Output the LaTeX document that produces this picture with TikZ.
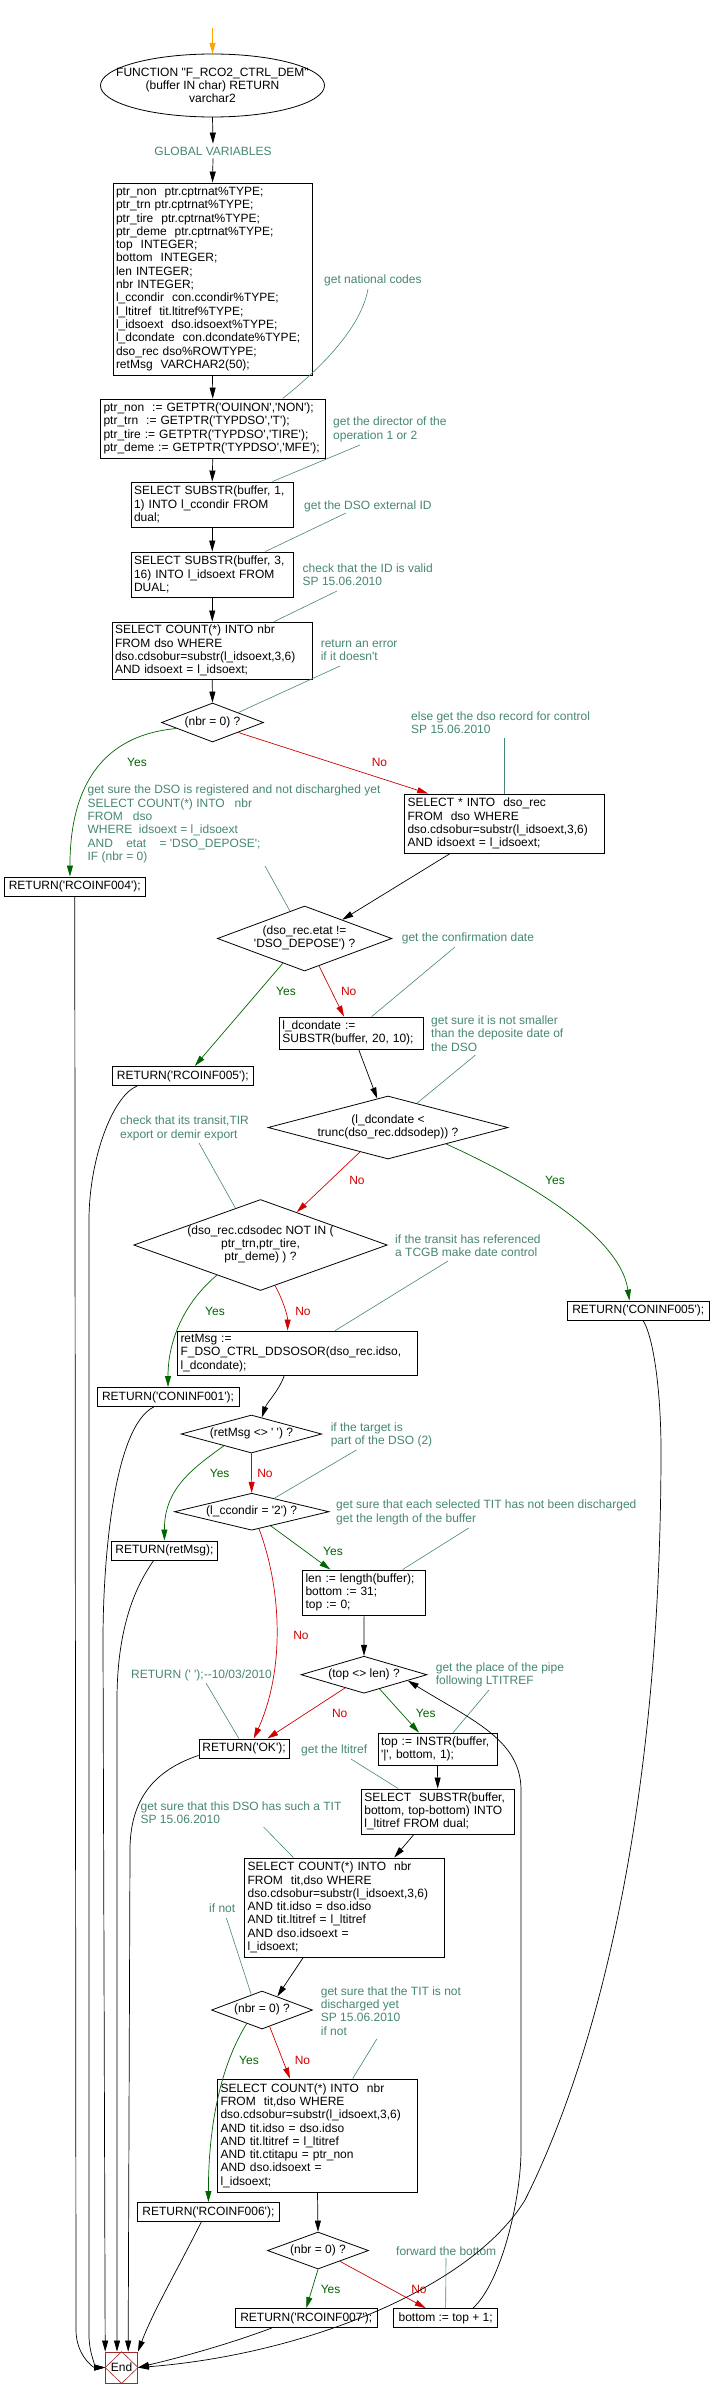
\documentclass[tikz,border=0pt]{standalone}
\usepackage{fontspec}
\newfontfamily\lsans{Liberation Sans}
\usetikzlibrary{arrows.meta,calc,shapes.geometric}
\definecolor{cmt}{RGB}{70,135,110}
\definecolor{yesc}{RGB}{0,100,0}
\definecolor{noc}{RGB}{210,0,0}
\definecolor{endc}{RGB}{160,40,40}
\definecolor{startc}{RGB}{255,165,0}
\newcommand{\myf}{\lsans\fontsize{12pt}{13.3pt}\selectfont}
\newcommand{\dtext}[1]{\makebox[0pt]{\begin{tabular}{@{}c@{}}#1\end{tabular}}}
\begin{document}
\begin{tikzpicture}[x=1pt,y=-1pt,
  every node/.style={font=\myf},
  box/.style={draw, line width=0.9pt, align=left, inner xsep=3pt, inner ysep=1.5pt},
  rbox/.style={draw, line width=0.9pt, inner xsep=3pt, inner ysep=1.5pt, minimum height=19pt},
  dia/.style={draw, line width=0.8pt, diamond, aspect=1, inner sep=0pt},
  cmtn/.style={text=cmt, align=left, anchor=west, inner sep=0pt},
  cl/.style={draw=cmt, line width=0.6pt},
  arr/.style={draw=black, line width=0.7pt, -{Triangle[length=11pt,width=6pt]}},
  yarr/.style={draw=yesc, line width=0.7pt, -{Triangle[length=11pt,width=6pt]}},
  narr/.style={draw=noc, line width=0.7pt, -{Triangle[length=11pt,width=6pt]}},
  sarr/.style={draw=startc, line width=0.8pt, -{Triangle[length=11pt,width=6pt]}},
  ylab/.style={text=yesc, inner sep=0pt},
  nlab/.style={text=noc, inner sep=0pt}]
\useasboundingbox (0,0) rectangle (710,2398);

% ---------------- nodes ----------------
\coordinate (s0) at (212.5,28);
\node[minimum width=224pt, minimum height=63pt, inner sep=0pt, align=center] (e1) at (212.5,85.5)
  {FUNCTION "F\_RCO2\_CTRL\_DEM"\\(buffer IN char) RETURN\\varchar2};
\draw[line width=0.8pt] (e1.center) ellipse [x radius=112pt, y radius=31.5pt];
\node[text=cmt, inner sep=3pt] (gv) at (213,151) {GLOBAL VARIABLES};

\node[box, text width=193pt, minimum height=192pt] (b1) at (212.5,279) {%
ptr\_non~ ptr.cptrnat\%TYPE;\\
ptr\_trn ptr.cptrnat\%TYPE;\\
ptr\_tire~ ptr.cptrnat\%TYPE;\\
ptr\_deme~ ptr.cptrnat\%TYPE;\\
top~ INTEGER;\\
bottom~ INTEGER;\\
len INTEGER;\\
nbr INTEGER;\\
l\_ccondir~ con.ccondir\%TYPE;\\
l\_ltitref~ tit.ltitref\%TYPE;\\
l\_idsoext~ dso.idsoext\%TYPE;\\
l\_dcondate~ con.dcondate\%TYPE;\\
dso\_rec dso\%ROWTYPE;\\
retMsg~ VARCHAR2(50);};

\node[box, text width=218.5pt, minimum height=59pt] (b2) at (212.75,428.5) {%
ptr\_non~ := GETPTR('OUINON','NON');\\
ptr\_trn~ := GETPTR('TYPDSO','T');\\
ptr\_tire := GETPTR('TYPDSO','TIRE');\\
ptr\_deme := GETPTR('TYPDSO','MFE');};

\node[box, text width=156.5pt, minimum height=45pt] (b3) at (212.25,504.5) {%
SELECT SUBSTR(buffer, 1,\\1) INTO l\_ccondir FROM\\dual;};
\node[box, text width=156.5pt, minimum height=45pt] (b4) at (212.25,574.5) {%
SELECT SUBSTR(buffer, 3,\\16) INTO l\_idsoext FROM\\DUAL;};
\node[box, text width=194.5pt, minimum height=57pt] (b5) at (212.25,650.5) {%
SELECT COUNT(*) INTO nbr\\FROM dso WHERE\\dso.cdsobur=substr(l\_idsoext,3,6)\\AND idsoext = l\_idsoext;};
\node[dia, minimum width=102pt, minimum height=39pt] (d1) at (212.5,722.5) {\dtext{(nbr = 0) ?}};
\node[box, text width=194pt, minimum height=59pt] (b6) at (504.5,823.5) {%
SELECT * INTO~ dso\_rec\\FROM~ dso WHERE\\dso.cdsobur=substr(l\_idsoext,3,6)\\AND idsoext = l\_idsoext;};
\node[rbox, minimum width=140.5pt] (r4) at (74.75,886.5) {RETURN('RCOINF004');};
\node[dia, minimum width=174.4pt, minimum height=65pt] (d2) at (304.6,938.5) {\dtext{(dso\_rec.etat !=\\'DSO\_DEPOSE') ?}};
\node[box, text width=138pt, minimum height=32pt] (b7) at (351.4,1033) {l\_dcondate :=\\SUBSTR(buffer, 20, 10);};
\node[rbox, minimum width=141.6pt] (r5) at (182.8,1076) {RETURN('RCOINF005');};
\node[dia, minimum width=240pt, minimum height=63pt] (d3) at (388,1127.5) {\dtext{(l\_dcondate <\\trunc(dso\_rec.ddsodep)) ?}};
\node[dia, minimum width=253.5pt, minimum height=91pt] (d4) at (260.5,1245) {\dtext{(dso\_rec.cdsodec NOT IN (\\ptr\_trn,ptr\_tire,\\ptr\_deme) ) ?}};
\node[rbox, minimum width=141.5pt] (r6) at (638.25,1310.5) {RETURN('CONINF005');};
\node[box, text width=233.5pt, minimum height=44pt] (b8) at (297.25,1353) {retMsg :=\\F\_DSO\_CTRL\_DDSOSOR(dso\_rec.idso,\\l\_dcondate);};
\node[rbox, minimum width=142pt] (r7) at (168,1397) {RETURN('CONINF001');};
\node[dia, minimum width=140.6pt, minimum height=38pt] (d5) at (251.4,1434) {\dtext{(retMsg <> ' ') ?}};
\node[dia, minimum width=154.6pt, minimum height=37pt] (d6) at (251.7,1511.7) {\dtext{(l\_ccondir = '2') ?}};
\node[rbox, minimum width=106pt] (r8) at (164.4,1550.5) {RETURN(retMsg);};
\node[box, text width=117.2pt, minimum height=45pt] (b9) at (364.1,1592.5) {len := length(buffer);\\bottom := 31;\\top := 0;};
\node[dia, minimum width=126pt, minimum height=37pt] (d7) at (364,1674.7) {\dtext{(top <> len) ?}};
\node[rbox, minimum width=90pt] (rOK) at (244,1748.5) {RETURN('OK');};
\node[box, text width=113pt, minimum height=32pt] (b10) at (437.5,1749) {top := INSTR(buffer,\\'|', bottom, 1);};
\node[box, text width=146.6pt, minimum height=45pt] (b11) at (437.7,1811.5) {SELECT~ SUBSTR(buffer,\\bottom, top-bottom) INTO\\l\_ltitref FROM dual;};
\node[box, text width=194pt, minimum height=99pt] (b12) at (344.65,1907.5) {%
SELECT COUNT(*) INTO~ nbr\\FROM~ tit,dso WHERE\\dso.cdsobur=substr(l\_idsoext,3,6)\\AND tit.idso = dso.idso\\AND tit.ltitref = l\_ltitref\\AND dso.idsoext =\\l\_idsoext;};
\node[dia, minimum width=101pt, minimum height=38pt] (d8) at (262,2010) {\dtext{(nbr = 0) ?}};
\node[box, text width=194pt, minimum height=113pt] (b13) at (317.5,2135.5) {%
SELECT COUNT(*) INTO~ nbr\\FROM~ tit,dso WHERE\\dso.cdsobur=substr(l\_idsoext,3,6)\\AND tit.idso = dso.idso\\AND tit.ltitref = l\_ltitref\\AND tit.ctitapu = ptr\_non\\AND dso.idsoext =\\l\_idsoext;};
\node[rbox, minimum width=141.3pt] (r9) at (208.4,2212) {RETURN('RCOINF006');};
\node[dia, minimum width=101pt, minimum height=37pt] (d9) at (318,2250.5) {\dtext{(nbr = 0) ?}};
\node[rbox, minimum width=141.5pt] (r10) at (306.25,2318) {RETURN('RCOINF007');};
\node[rbox, minimum width=104pt] (b14) at (445.65,2318) {bottom := top + 1;};
\node[draw=endc, line width=0.8pt, minimum width=32pt, minimum height=31pt, inner sep=0pt] (fin) at (121.6,2367.5) {End};
\draw[endc, line width=0.6pt] (fin.north) -- (fin.east) -- (fin.south) -- (fin.west) -- cycle;

% ---------------- comments ----------------
\node[cmtn] (c1) at (324,280) {get national codes};
\node[cmtn] (c2) at (333,429.5) {get the director of the\\operation 1 or 2};
\node[cmtn] (c3) at (304,506) {get the DSO external ID};
\node[cmtn] (c4) at (302.5,574.5) {check that the ID is valid\\SP 15.06.2010};
\node[cmtn] (c5) at (320.6,650.5) {return an error\\if it doesn't};
\node[cmtn] (c6) at (411,722.5) {else get the dso record for control\\SP 15.06.2010};
\node[cmtn] (c7) at (87.4,824) {get sure the DSO is registered and not discharghed yet\\SELECT COUNT(*) INTO~~ nbr\\FROM~~ dso\\WHERE~ idsoext = l\_idsoext\\AND~~~ etat~~~ = 'DSO\_DEPOSE';\\IF (nbr = 0)};
\node[cmtn] (c8) at (401.7,938) {get the confirmation date};
\node[cmtn] (c9) at (431,1033.5) {get sure it is not smaller\\than the deposite date of\\the DSO};
\node[cmtn] (c10) at (120,1128.5) {check that its transit,TIR\\export or demir export};
\node[cmtn] (c11) at (395,1245.5) {if the transit has referenced\\a TCGB make date control};
\node[cmtn] (c12) at (330.6,1435) {if the target is\\part of the DSO (2)};
\node[cmtn] (c13) at (336,1512.5) {get sure that each selected TIT has not been discharged\\get the length of the buffer};
\node[cmtn] (c14) at (435.7,1675) {get the place of the pipe\\following LTITREF};
\node[cmtn] (c15) at (131,1675) {RETURN (' ');-\kern0pt-10/03/2010};
\node[cmtn] (c16) at (301,1750) {get the ltitref};
\node[cmtn] (c17) at (140.4,1812.5) {get sure that this DSO has such a TIT\\SP 15.06.2010};
\node[cmtn] (c18) at (209,1908) {if not};
\node[cmtn] (c19) at (320.7,2011) {get sure that the TIT is not\\discharged yet\\SP 15.06.2010\\if not};
\node[cmtn] (c20) at (396,2251) {forward the bottom};

% comment lines
\draw[cl] ($(c1.west)+(44,9)$) .. controls +(-8,45) and +(25,-20) .. ($(b2.north west)!0.81!(b2.north east)$);
\draw[cl] ($(c2.west)+(27,15.5)$) -- ($(b3.north west)!0.868!(b3.north east)$);
\draw[cl] ($(c3.west)+(42,7)$) -- ($(b4.north west)!0.825!(b4.north east)$);
\draw[cl] ($(c4.west)+(34.5,16.5)$) -- ($(b5.north west)!0.808!(b5.north east)$);
\draw[cl] ($(c5.west)+(19.4,15.5)$) -- (d1.north east);
\draw[cl] ($(c6.west)+(93.5,15.5)$) -- (b6.north);
\draw[cl] ($(c7.west)+(177.6,42)$) -- ($(d2.north)!0.167!(d2.west)$);
\draw[cl] ($(c8.west)+(53.3,9)$) -- ($(b7.north west)!0.64!(b7.north east)$);
\draw[cl] ($(c9.west)+(44.5,21.5)$) -- ($(d3.north)!0.24!(d3.east)$);
\draw[cl] ($(c10.west)+(79,14.5)$) -- ($(d4.north)!0.197!(d4.west)$);
\draw[cl] ($(c11.west)+(53,15.5)$) -- ($(b8.north west)!0.658!(b8.north east)$);
\draw[cl] ($(c12.west)+(25.8,15)$) -- ($(d6.north)!0.29!(d6.east)$);
\draw[cl] ($(c13.west)+(132.75,15.5)$) -- ($(b9.north west)!0.81!(b9.north east)$);
\draw[cl] ($(c14.west)+(53.3,15)$) -- ($(b10.north west)!0.63!(b10.north east)$);
\draw[cl] ($(c15.west)+(75,8)$) -- ($(rOK.north west)!0.444!(rOK.north east)$);
\draw[cl] ($(c16.west)+(50,9)$) -- ($(b11.north west)!0.243!(b11.north east)$);
\draw[cl] ($(c17.west)+(123.2,14.5)$) -- ($(b12.north west)!0.245!(b12.north east)$);
\draw[cl] ($(c18.west)+(17.4,10)$) -- ($(d8.north)!0.21!(d8.west)$);
\draw[cl] ($(c19.west)+(56.1,28)$) -- ($(b13.north west)!0.675!(b13.north east)$);
\draw[cl] ($(c20.west)+(50,7)$) -- (b14.north);

% ---------------- flow ----------------
\draw[sarr] (s0) -- (e1.north);
\draw[arr] (e1.south) -- (gv.north);
\draw[arr] (gv.south) -- (b1.north);
\draw[arr] (b1.south) -- (b2.north);
\draw[arr] (b2.south) -- (b3.north);
\draw[arr] (b3.south) -- (b4.north);
\draw[arr] (b4.south) -- (b5.north);
\draw[arr] (b5.south) -- (d1.north);

\draw[yarr] ($(d1.west)!0.3!(d1.south)$) .. controls +(-77,7) and +(0,-87) .. ($(r4.north west)!0.466!(r4.north east)$);
\node[ylab] (y1) at (137,762) {Yes};
\draw[narr] (d1.south east) -- ($(b6.north west)!0.12!(b6.north east)$);
\node[nlab] (n1) at (379.5,762) {No};

\draw[arr] ($(b6.south west)!0.23!(b6.south east)$) -- ($(d2.north)!0.43!(d2.east)$);
\draw[yarr] ($(d2.south)!0.248!(d2.west)$) -- ($(r5.north west)!0.584!(r5.north east)$);
\node[ylab] (y2) at (286,991) {Yes};
\draw[narr] ($(d2.south)!0.165!(d2.east)$) -- ($(b7.north west)!0.449!(b7.north east)$);
\node[nlab] (n2) at (348.7,991) {No};
\draw[arr] ($(b7.south west)!0.55!(b7.south east)$) -- ($(d3.north)!0.09!(d3.west)$);

\draw[narr] ($(d3.south)!0.233!(d3.west)$) -- ($(d4.north)!0.285!(d4.east)$);
\node[nlab] (n3) at (357,1180) {No};
\draw[yarr] ($(d3.south)!0.483!(d3.east)$) .. controls +(60,27) and +(-10,-70) .. ($(r6.north west)!0.438!(r6.north east)$);
\node[ylab] (y3) at (555,1180) {Yes};

\draw[yarr] ($(d4.south)!0.343!(d4.west)$) .. controls +(-30,25) and +(0,-50) .. (r7.north);
\node[ylab] (y4) at (215,1311) {Yes};
\draw[narr] ($(d4.south)!0.115!(d4.east)$) .. controls +(8,15) and +(0,-15) .. ($(b8.north west)!0.46!(b8.north east)$);
\node[nlab] (n4) at (303,1311) {No};
\draw[arr] ($(b8.south west)!0.446!(b8.south east)$) .. controls +(-5,15) and +(5,-15) .. ($(d5.north)!0.148!(d5.east)$);

\draw[yarr] ($(d5.south)!0.39!(d5.west)$) .. controls +(-35,25) and +(0,-50) .. (r8.north);
\node[ylab] (y5) at (219.7,1473) {Yes};
\draw[narr] (d5.south) -- (d6.north);
\node[nlab] (n5) at (265,1473) {No};

\draw[yarr] ($(d6.south)!0.247!(d6.east)$) -- ($(b9.north west)!0.228!(b9.north east)$);
\node[ylab] (y6) at (333,1551) {Yes};
\draw[narr] ($(d6.south)!0.094!(d6.east)$) .. controls +(23,61) and +(31,-68) .. ($(rOK.north west)!0.607!(rOK.north east)$);
\node[nlab] (n6) at (301,1635) {No};

\draw[arr] (b9.south) -- (d7.north);
\draw[narr] ($(d7.south)!0.30!(d7.west)$) -- ($(rOK.north west)!0.756!(rOK.north east)$);
\node[nlab] (n7) at (339.7,1713) {No};
\draw[yarr] ($(d7.south)!0.246!(d7.east)$) -- ($(b10.north west)!0.345!(b10.north east)$);
\node[ylab] (y7) at (425.7,1713) {Yes};
\draw[arr] (b10.south) -- (b11.north);
\draw[arr] ($(b11.south west)!0.345!(b11.south east)$) -- ($(b12.north west)!0.747!(b12.north east)$);
\draw[arr] ($(b12.south west)!0.294!(b12.south east)$) -- ($(d8.north)!0.3!(d8.east)$);

\draw[yarr] ($(d8.south)!0.3!(d8.west)$) .. controls +(-25,40) and +(0,-80) .. (r9.north);
\node[ylab] (y8) at (249,2060) {Yes};
\draw[narr] ($(d8.south)!0.15!(d8.east)$) -- ($(b13.north west)!0.363!(b13.north east)$);
\node[nlab] (n8) at (302.5,2060) {No};
\draw[arr] (b13.south) -- (d9.north);

\draw[yarr] (d9.south) -- (r10.north);
\node[ylab] (y9) at (330.6,2289) {Yes};
\draw[narr] ($(d9.south)!0.43!(d9.east)$) -- ($(b14.north west)!0.31!(b14.north east)$);
\node[nlab] (n9) at (419,2289) {No};

% loop back
\draw[arr] ($(b14.north west)!0.76!(b14.north east)$) .. controls +(28,-25) and +(0,50) .. (521,2150) -- (521,1790) .. controls +(0,-50) and +(65,40) .. ($(d7.south)!0.69!(d7.east)$);

% to End
\draw[arr] (r4.south) -- (76,2330) .. controls +(0,25) and +(-12,0) .. (fin.west);
\draw[arr] ($(r5.south west)!0.18!(r5.south east)$) .. controls +(-25,10) and +(0,-60) .. (89,1220) -- (89,2335) .. controls +(0,20) and +(-8,0) .. (fin.west);
\draw[arr] ($(r7.south west)!0.40!(r7.south east)$) .. controls +(-40,20) and +(0,-80) .. (103,1640) -- (fin.north west);
\draw[arr] ($(r8.south west)!0.40!(r8.south east)$) .. controls +(-14,20) and +(0,-80) .. (117,1700) -- ($(fin.north west)!0.36!(fin.north east)$);
\draw[arr] ($(rOK.south west)+(0,-3)$) .. controls +(-45,15) and +(0,-50) .. (130,1850) -- ($(fin.north west)!0.7!(fin.north east)$);
\draw[arr] ($(r9.south west)!0.45!(r9.south east)$) .. controls +(-25,50) and +(15,-40) .. (fin.north east);
\draw[arr] ($(r10.south west)!0.258!(r10.south east)$) .. controls +(-40,15) and +(50,-12) .. (fin.east);
\draw[arr] ($(r6.south west)!0.534!(r6.south east)$) .. controls +(12,20) and +(0,-50) .. (661,1450) .. controls (661,1800) and (600,2050) .. (525,2200) .. controls (470,2290) and (300,2355) .. (fin.east);
\end{tikzpicture}
\end{document}
